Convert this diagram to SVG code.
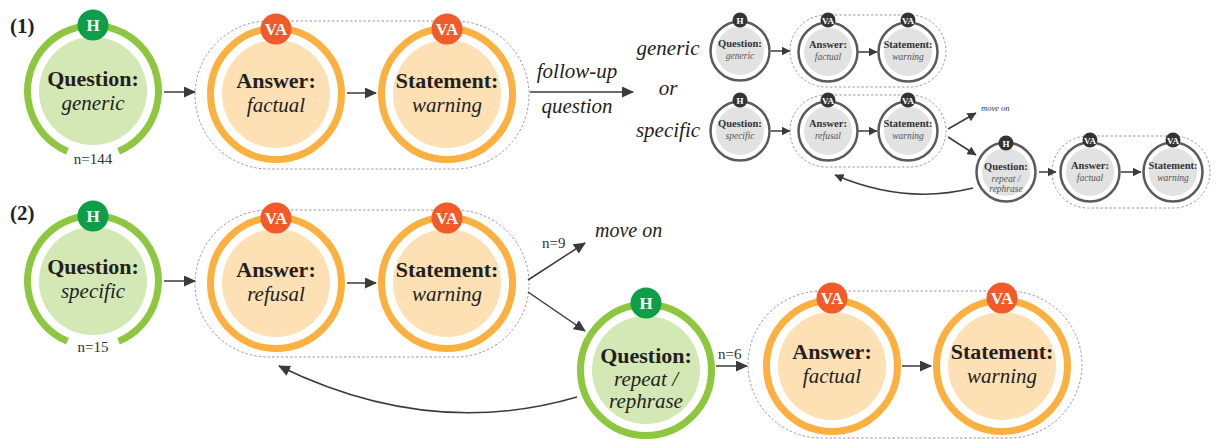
<svg xmlns="http://www.w3.org/2000/svg" width="1216" height="439" viewBox="0 0 1216 439">
<defs>
<style>
.bg{fill:#fff}
.t{font-family:"Liberation Serif","Times New Roman",serif;fill:#231f20}
.b{font-weight:bold}
.i{font-style:italic}
.L{font-size:22px}
.Li{font-size:21px}
.n{font-size:15px;fill:#333}
.tiny{font-size:8.5px;fill:#333}
.ringG{fill:none;stroke:#8dc63f;stroke-width:7}
.ringO{fill:none;stroke:#fbb040;stroke-width:7}
.fillG{fill:#d3e8b5}
.fillO{fill:#fde0b3}
.bdgH{fill:#0e9e4a}
.bdgV{fill:#f15a29}
.bt{font-family:"Liberation Serif","Times New Roman",serif;font-weight:bold;font-size:17px;fill:#fff}
.grp{fill:none;stroke:#999;stroke-width:1;stroke-dasharray:2.5 2}
.ringS{fill:#fff;stroke:#5a5a5a;stroke-width:2.5}
.fillS{fill:#e2e2e2}
.bdgS{fill:#333}
.bts{font-family:"Liberation Serif","Times New Roman",serif;font-weight:bold;font-size:9px;fill:#fff}
.sb{font-size:10.5px;fill:#333}
.si{font-size:9.5px;fill:#555}
.con{fill:none;stroke:#3a3a3a;stroke-width:1.5}
.cons{fill:none;stroke:#3a3a3a;stroke-width:1.5}
</style>
<marker id="ah" markerUnits="userSpaceOnUse" markerWidth="12" markerHeight="11" viewBox="0 0 12 11" refX="11" refY="5.5" orient="auto">
<path d="M0,0 L12,5.5 L0,11 z" fill="#3a3a3a"/>
</marker>
<marker id="ahs" markerUnits="userSpaceOnUse" markerWidth="9" markerHeight="9" viewBox="0 0 9 9" refX="8.5" refY="4.5" orient="auto">
<path d="M0,0 L9,4.5 L0,9 z" fill="#3a3a3a"/>
</marker>
</defs>
<rect class="bg" x="0" y="0" width="1216" height="439"/>

<!-- group outlines -->
<g id="groups">
<rect class="grp" x="195" y="21" width="334" height="148" rx="74"/>
<rect class="grp" x="195" y="210" width="334" height="147" rx="73.5"/>
<rect class="grp" x="748" y="291" width="334" height="147" rx="73.5"/>
<rect class="grp" x="790" y="15" width="156" height="72" rx="36"/>
<rect class="grp" x="790" y="95" width="156" height="72" rx="36"/>
<rect class="grp" x="1052" y="136" width="158" height="72" rx="36"/>
</g>

<!-- labels -->
<g id="labels">
<text class="t b" x="10" y="33" font-size="21">(1)</text>
<text class="t b" x="10" y="220" font-size="21">(2)</text>
<text class="t i" x="577" y="78" font-size="21" text-anchor="middle">follow-up</text>
<text class="t i" x="577" y="113" font-size="21" text-anchor="middle">question</text>
<text class="t i" x="668" y="55" font-size="21" text-anchor="middle">generic</text>
<text class="t i" x="668" y="95" font-size="21" text-anchor="middle">or</text>
<text class="t i" x="668" y="137" font-size="21" text-anchor="middle">specific</text>
<text class="t i" x="595" y="237" font-size="20">move on</text>
<text class="t n" x="542" y="248">n=9</text>
<text class="t n" x="718" y="359">n=6</text>
<text class="t i tiny" x="981" y="111">move on</text>
</g>

<!-- connectors -->
<g id="connectors">
<path class="con" d="M164,92 L195,92" marker-end="url(#ah)"/>
<path class="con" d="M347,93 L376,93" marker-end="url(#ah)"/>
<path class="con" d="M530,92 L633,92" marker-end="url(#ah)"/>
<path class="con" d="M164,281 L195,281" marker-end="url(#ah)"/>
<path class="con" d="M347,283 L376,283" marker-end="url(#ah)"/>
<path class="con" d="M528,280 L585,243" marker-end="url(#ah)"/>
<path class="con" d="M528,292 L585,331" marker-end="url(#ah)"/>
<path class="con" d="M716,366 L747,366" marker-end="url(#ah)"/>
<path class="con" d="M902,366 L931,366" marker-end="url(#ah)"/>
<path class="con" d="M577,397 Q430,440 279,366" marker-end="url(#ah)"/>
<path class="cons" d="M771,51 L790,51" marker-end="url(#ahs)"/>
<path class="cons" d="M858,52 L877,52" marker-end="url(#ahs)"/>
<path class="cons" d="M771,131 L790,131" marker-end="url(#ahs)"/>
<path class="cons" d="M858,131 L877,131" marker-end="url(#ahs)"/>
<path class="cons" d="M948,129 L976,113" marker-end="url(#ahs)"/>
<path class="cons" d="M948,137 L976,155" marker-end="url(#ahs)"/>
<path class="cons" d="M1039,172 L1056,172" marker-end="url(#ahs)"/>
<path class="cons" d="M1121,172 L1141,172" marker-end="url(#ahs)"/>
<path class="cons" d="M973,188 Q905,205 835,175" marker-end="url(#ahs)"/>
</g>

<!-- large nodes -->
<g id="q1">
<circle class="fillG" cx="93" cy="91" r="54"/>
<path class="ringG" d="M67.4,151.3 A65.5,65.5 0 1 1 118.6,151.3"/>
<circle class="bdgH" cx="93" cy="25" r="15.5"/>
<text class="bt" x="93" y="31" text-anchor="middle">H</text>
<text class="t b L" x="93" y="86" text-anchor="middle">Question:</text>
<text class="t i Li" x="93" y="110" text-anchor="middle">generic</text>
<text class="t n" x="93" y="164" text-anchor="middle">n=144</text>
</g>
<g id="a1">
<circle class="fillO" cx="276" cy="94" r="54"/>
<circle class="ringO" cx="276" cy="94" r="65.5"/>
<circle class="bdgV" cx="276" cy="29" r="15.5"/>
<text class="bt" x="276" y="35" text-anchor="middle">VA</text>
<text class="t b L" x="276" y="88" text-anchor="middle">Answer:</text>
<text class="t i Li" x="276" y="112" text-anchor="middle">factual</text>
</g>
<g id="s1">
<circle class="fillO" cx="447" cy="94" r="54"/>
<circle class="ringO" cx="447" cy="94" r="65.5"/>
<circle class="bdgV" cx="447" cy="29" r="15.5"/>
<text class="bt" x="447" y="35" text-anchor="middle">VA</text>
<text class="t b L" x="447" y="88" text-anchor="middle">Statement:</text>
<text class="t i Li" x="447" y="112" text-anchor="middle">warning</text>
</g>
<g id="q2">
<circle class="fillG" cx="93" cy="281" r="54"/>
<path class="ringG" d="M67.4,341.3 A65.5,65.5 0 1 1 118.6,341.3"/>
<circle class="bdgH" cx="93" cy="216" r="15.5"/>
<text class="bt" x="93" y="222" text-anchor="middle">H</text>
<text class="t b L" x="93" y="274" text-anchor="middle">Question:</text>
<text class="t i Li" x="93" y="298" text-anchor="middle">specific</text>
<text class="t n" x="93" y="352" text-anchor="middle">n=15</text>
</g>
<g id="a2">
<circle class="fillO" cx="276" cy="283" r="54"/>
<circle class="ringO" cx="276" cy="283" r="65.5"/>
<circle class="bdgV" cx="276" cy="218" r="15.5"/>
<text class="bt" x="276" y="224" text-anchor="middle">VA</text>
<text class="t b L" x="276" y="277" text-anchor="middle">Answer:</text>
<text class="t i Li" x="276" y="301" text-anchor="middle">refusal</text>
</g>
<g id="s2">
<circle class="fillO" cx="447" cy="283" r="54"/>
<circle class="ringO" cx="447" cy="283" r="65.5"/>
<circle class="bdgV" cx="447" cy="218" r="15.5"/>
<text class="bt" x="447" y="224" text-anchor="middle">VA</text>
<text class="t b L" x="447" y="277" text-anchor="middle">Statement:</text>
<text class="t i Li" x="447" y="301" text-anchor="middle">warning</text>
</g>
<g id="q3">
<circle class="fillG" cx="646" cy="370" r="54"/>
<circle class="ringG" cx="646" cy="370" r="65.5"/>
<circle class="bdgH" cx="646" cy="303" r="15.5"/>
<text class="bt" x="646" y="309" text-anchor="middle">H</text>
<text class="t b L" x="646" y="363" text-anchor="middle">Question:</text>
<text class="t i Li" x="646" y="386" text-anchor="middle">repeat /</text>
<text class="t i Li" x="646" y="408" text-anchor="middle">rephrase</text>
</g>
<g id="a3">
<circle class="fillO" cx="832" cy="366" r="54"/>
<circle class="ringO" cx="832" cy="366" r="65.5"/>
<circle class="bdgV" cx="832" cy="298" r="15.5"/>
<text class="bt" x="832" y="304" text-anchor="middle">VA</text>
<text class="t b L" x="832" y="359" text-anchor="middle">Answer:</text>
<text class="t i Li" x="832" y="383" text-anchor="middle">factual</text>
</g>
<g id="s3">
<circle class="fillO" cx="1002" cy="366" r="54"/>
<circle class="ringO" cx="1002" cy="366" r="65.5"/>
<circle class="bdgV" cx="1002" cy="298" r="15.5"/>
<text class="bt" x="1002" y="304" text-anchor="middle">VA</text>
<text class="t b L" x="1002" y="359" text-anchor="middle">Statement:</text>
<text class="t i Li" x="1002" y="383" text-anchor="middle">warning</text>
</g>

<!-- small nodes -->
<g id="sq1">
<circle class="ringS" cx="740" cy="51" r="29.5"/>
<circle class="fillS" cx="740" cy="51" r="24"/>
<circle class="bdgS" cx="740" cy="20" r="7.5"/>
<text class="bts" x="740" y="23.5" text-anchor="middle">H</text>
<text class="t b sb" x="740" y="47" text-anchor="middle">Question:</text>
<text class="t i si" x="740" y="59" text-anchor="middle">generic</text>
</g>
<g id="sa1">
<circle class="ringS" cx="828" cy="52" r="29.5"/>
<circle class="fillS" cx="828" cy="52" r="24"/>
<circle class="bdgS" cx="828" cy="20" r="7.5"/>
<text class="bts" x="828" y="23.5" text-anchor="middle">VA</text>
<text class="t b sb" x="828" y="48" text-anchor="middle">Answer:</text>
<text class="t i si" x="828" y="60" text-anchor="middle">factual</text>
</g>
<g id="ss1">
<circle class="ringS" cx="908" cy="52" r="29.5"/>
<circle class="fillS" cx="908" cy="52" r="24"/>
<circle class="bdgS" cx="908" cy="20" r="7.5"/>
<text class="bts" x="908" y="23.5" text-anchor="middle">VA</text>
<text class="t b sb" x="908" y="48" text-anchor="middle">Statement:</text>
<text class="t i si" x="908" y="60" text-anchor="middle">warning</text>
</g>
<g id="sq2">
<circle class="ringS" cx="740" cy="131" r="29.5"/>
<circle class="fillS" cx="740" cy="131" r="24"/>
<circle class="bdgS" cx="740" cy="100" r="7.5"/>
<text class="bts" x="740" y="103.5" text-anchor="middle">H</text>
<text class="t b sb" x="740" y="127" text-anchor="middle">Question:</text>
<text class="t i si" x="740" y="139" text-anchor="middle">specific</text>
</g>
<g id="sa2">
<circle class="ringS" cx="828" cy="131" r="29.5"/>
<circle class="fillS" cx="828" cy="131" r="24"/>
<circle class="bdgS" cx="828" cy="100" r="7.5"/>
<text class="bts" x="828" y="103.5" text-anchor="middle">VA</text>
<text class="t b sb" x="828" y="127" text-anchor="middle">Answer:</text>
<text class="t i si" x="828" y="139" text-anchor="middle">refusal</text>
</g>
<g id="ss2">
<circle class="ringS" cx="908" cy="131" r="29.5"/>
<circle class="fillS" cx="908" cy="131" r="24"/>
<circle class="bdgS" cx="908" cy="100" r="7.5"/>
<text class="bts" x="908" y="103.5" text-anchor="middle">VA</text>
<text class="t b sb" x="908" y="127" text-anchor="middle">Statement:</text>
<text class="t i si" x="908" y="139" text-anchor="middle">warning</text>
</g>
<g id="sq3">
<circle class="ringS" cx="1006" cy="172" r="29.5"/>
<circle class="fillS" cx="1006" cy="172" r="24"/>
<circle class="bdgS" cx="1006" cy="143" r="7.5"/>
<text class="bts" x="1006" y="146.5" text-anchor="middle">H</text>
<text class="t b sb" x="1006" y="170" text-anchor="middle">Question:</text>
<text class="t i si" x="1006" y="182" text-anchor="middle">repeat /</text>
<text class="t i si" x="1006" y="192" text-anchor="middle">rephrase</text>
</g>
<g id="sa3">
<circle class="ringS" cx="1090" cy="172" r="29.5"/>
<circle class="fillS" cx="1090" cy="172" r="24"/>
<circle class="bdgS" cx="1090" cy="140" r="7.5"/>
<text class="bts" x="1090" y="143.5" text-anchor="middle">VA</text>
<text class="t b sb" x="1090" y="169" text-anchor="middle">Answer:</text>
<text class="t i si" x="1090" y="181" text-anchor="middle">factual</text>
</g>
<g id="ss3">
<circle class="ringS" cx="1173" cy="172" r="29.5"/>
<circle class="fillS" cx="1173" cy="172" r="24"/>
<circle class="bdgS" cx="1173" cy="140" r="7.5"/>
<text class="bts" x="1173" y="143.5" text-anchor="middle">VA</text>
<text class="t b sb" x="1173" y="169" text-anchor="middle">Statement:</text>
<text class="t i si" x="1173" y="181" text-anchor="middle">warning</text>
</g>
</svg>
